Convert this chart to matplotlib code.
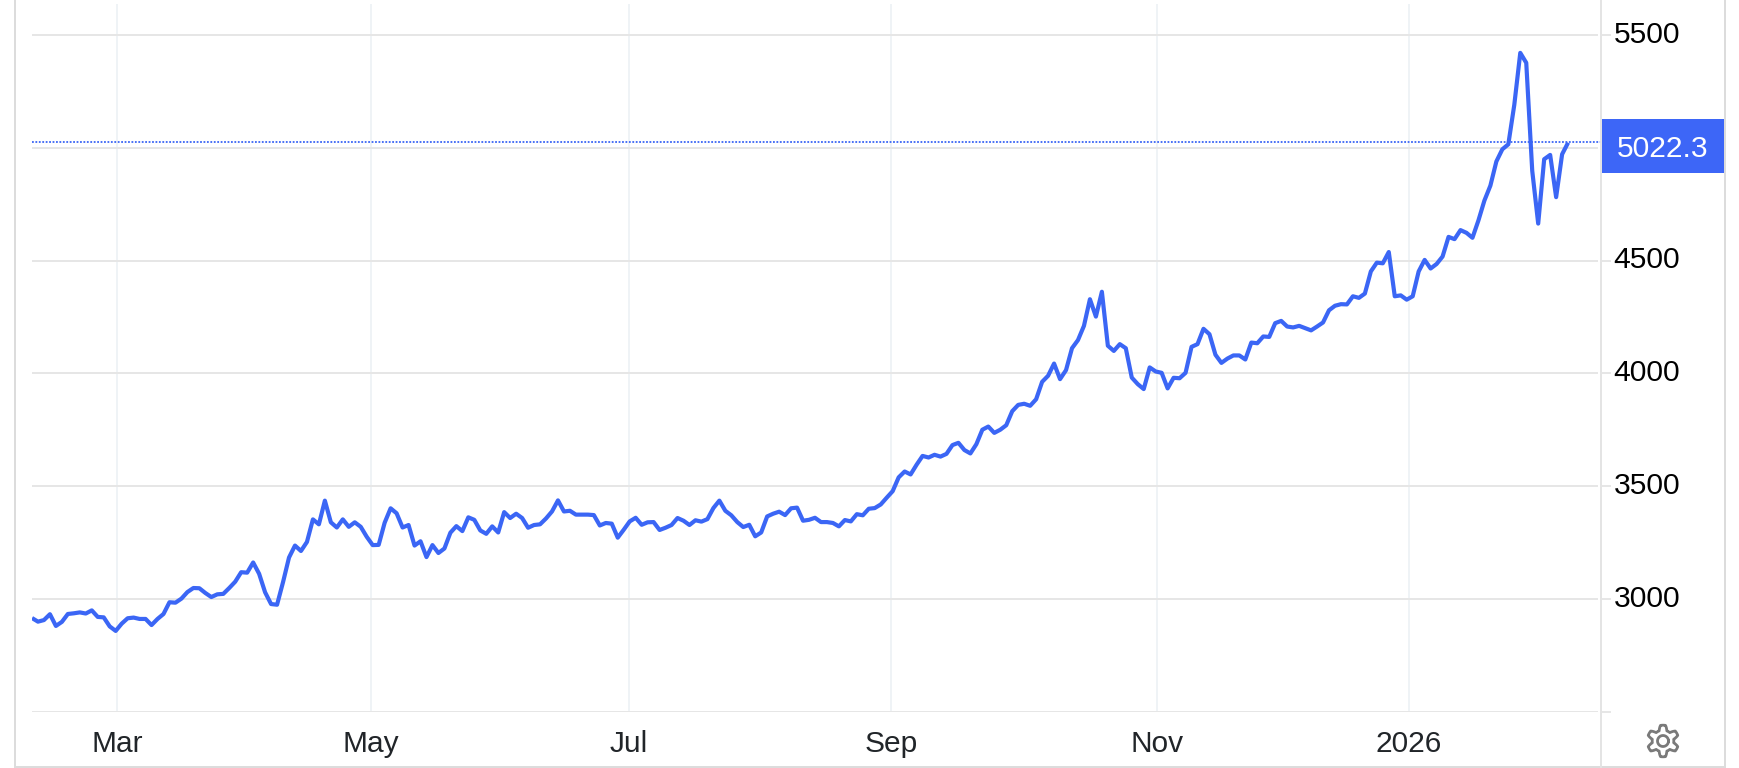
import numpy as np
import matplotlib
matplotlib.use("Agg")
import matplotlib.pyplot as plt
from matplotlib.lines import Line2D
from matplotlib.patches import Polygon, Rectangle

prices = [
    2917, 2901, 2908, 2934, 2882, 2900, 2935, 2938, 2942, 2937,
    2951, 2922, 2920, 2880, 2860, 2892, 2916, 2919, 2913, 2913,
    2886, 2913, 2935, 2987, 2985, 3003, 3032, 3050, 3049, 3028,
    3010, 3022, 3024, 3050, 3078, 3120, 3118, 3163, 3113, 3031,
    2979, 2976, 3076, 3185, 3238, 3214, 3254, 3354, 3332, 3437,
    3341, 3318, 3354, 3321, 3341, 3321, 3277, 3240, 3241, 3339,
    3403, 3381, 3318, 3329, 3238, 3257, 3187, 3240, 3205, 3225,
    3295, 3324, 3302, 3363, 3352, 3305, 3290, 3323, 3296, 3386,
    3360, 3379, 3360, 3317, 3329, 3332, 3358, 3389, 3438, 3389,
    3392, 3375, 3375, 3375, 3373, 3327, 3338, 3335, 3273, 3308,
    3345, 3361, 3330, 3341, 3342, 3307, 3317, 3329, 3360, 3348,
    3329, 3350, 3344, 3355, 3404, 3437, 3392, 3372, 3342, 3320,
    3330, 3279, 3296, 3367, 3379, 3388, 3373, 3403, 3406, 3348,
    3352, 3361, 3342, 3342, 3338, 3323, 3351, 3345, 3377, 3372,
    3401, 3404, 3420, 3450, 3479, 3540, 3566, 3553, 3596, 3635,
    3628, 3640, 3632, 3644, 3683, 3693, 3661, 3646, 3687, 3751,
    3765, 3737, 3751, 3771, 3833, 3861, 3866, 3857, 3886, 3963,
    3990, 4044, 3975, 4015, 4112, 4148, 4211, 4329, 4252, 4362,
    4123, 4100, 4130, 4112, 3982, 3953, 3931, 4027, 4009, 4003,
    3934, 3981, 3979, 4003, 4118, 4130, 4198, 4174, 4083, 4047,
    4066, 4080, 4080, 4062, 4137, 4134, 4164, 4162, 4223, 4233,
    4208, 4204, 4211, 4201, 4191, 4208, 4226, 4280, 4300, 4307,
    4306, 4342, 4335, 4354, 4452, 4491, 4488, 4538, 4342, 4346,
    4327, 4342, 4452, 4503, 4465, 4485, 4518, 4605, 4595, 4635,
    4623, 4601, 4678, 4766, 4832, 4939, 4993, 5015, 5190, 5420,
    5376, 4898, 4664, 4949, 4968, 4781, 4971, 5022.3,
]
last_price = 5022.3
month_positions = [14.2, 56.7, 99.9, 143.7, 188.2, 230.4]
month_labels = ["Mar", "May", "Jul", "Sep", "Nov", "2026"]
price_ticks = [3000, 3500, 4000, 4500, 5000, 5500]
price_labels = ["3000", "3500", "4000", "4500", "", "5500"]
gridline_base = 2500

W, H = 1740, 768
BLUE = "#3b66f5"
GRID_H = "#e6e6e6"
GRID_V = "#eef2f6"
BORDER = "#dcdcdc"
plt.rcParams["font.family"] = ["Liberation Sans", "DejaVu Sans"]

fig = plt.figure(figsize=(W / 100, H / 100), dpi=100, facecolor="white")
L, R, T, B = 32, 1601, 4, 712.2
ax = fig.add_axes([L / W, 1 - B / H, (R - L) / W, (B - T) / H])
step = 5.977
ax.set_xlim(0, (R - L) / step)
px_per_unit = 112.9 / 500
ax.set_ylim(gridline_base, gridline_base + (B - T) / px_per_unit)
for s in ax.spines.values():
    s.set_visible(False)
ax.set_facecolor("white")

x = np.arange(len(prices))
ax.set_xticks(month_positions)
ax.set_xticklabels(month_labels, fontsize=21.5, color="#212529")
ax.set_yticks(price_ticks)
ax.set_yticklabels([])
ax.tick_params(axis="both", length=0)
ax.tick_params(axis="x", pad=12.5)
grid_end = (1598 - L) / step
ax.vlines(month_positions, gridline_base, ax.get_ylim()[1], color=GRID_V, lw=1.3, zorder=1)
ax.hlines(price_ticks + [gridline_base], 0, grid_end, color=GRID_H, lw=1.4, zorder=1.5)
ax.plot(x, prices, color=BLUE, lw=3.0, solid_joinstyle="round", solid_capstyle="butt", zorder=3)
ax.axhline(last_price + 5, color=BLUE, lw=1.3, ls=(0, (1, 0.9)), zorder=2)

# Y tick labels and tick stubs outside of the plot
trans = ax.get_yaxis_transform()
for v, lab in zip(price_ticks + [gridline_base], price_labels + [""]):
    ax.plot([1.0, 1.0 + 9 / (R - L)], [v, v], transform=trans, color=GRID_H, lw=1.4, clip_on=False, zorder=1.5)
    if lab:
        ax.text(1.0 + 12.5 / (R - L), v + 3.2 / px_per_unit, lab, transform=trans, fontsize=21.6,
                color="black", ha="left", va="center_baseline", clip_on=False)

# Frame lines, in figure pixels
def px_line(x0, y0, x1, y1, color=BORDER, lw=1.4):
    fig.add_artist(Line2D([x0 / W, x1 / W], [1 - y0 / H, 1 - y1 / H], color=color, lw=lw))

px_line(15, 0, 15, 767)
px_line(15, 767, 1725, 767)
px_line(1725, 0, 1725, 767)
px_line(1601, 0, 1601, 767, color="#e4e4e4", lw=1.4)

# Last-price flag
fig.add_artist(Rectangle((1602 / W, 1 - 173 / H), 122 / W, 54 / H, transform=fig.transFigure,
                         facecolor="#3d66f7", edgecolor="none", zorder=5))
fig.text(1662.5 / W, 1 - 146 / H, "5022.3", color="white", fontsize=21.6, ha="center",
         va="center_baseline", zorder=6)

# Settings gear
cx, cy, n = 1663, 741, 6
ang = np.linspace(0, 2 * np.pi, 241)
rad = 13.3 + 2.5 * np.clip(1.7 * np.cos(n * ang), -1, 1)
gx = (cx + rad * np.sin(ang)) / W
gy = 1 - (cy + rad * np.cos(ang)) / H
fig.add_artist(Polygon(np.c_[gx, gy], closed=True, transform=fig.transFigure,
                       facecolor="none", edgecolor="#7a7a7a", lw=2.0, joinstyle="round"))
fig.add_artist(Line2D((cx + 5.5 * np.cos(ang)) / W, 1 - (cy + 5.5 * np.sin(ang)) / H, color="#7a7a7a", lw=2.0))

fig.savefig("out.png", dpi=100, facecolor="white")
